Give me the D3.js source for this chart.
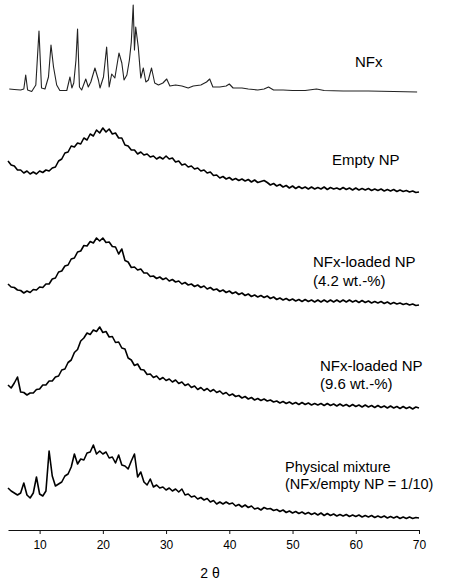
<!DOCTYPE html>
<html>
<head>
<meta charset="utf-8">
<script src="https://cdn.jsdelivr.net/npm/d3@7"></script>
<style>
  body { margin: 0; background: #fff; }
  svg { display: block; }
  text { font-family: "Liberation Sans", Arial, sans-serif; fill: #000; }
</style>
</head>
<body>
<svg id="chart" width="449" height="582"></svg>
<script>
// scan positions (2 theta, degrees), one reading every 0.5 deg
let scanAngles = d3.range(5, 70.001, 0.5);

// NFx powder: sharp crystalline reflections, read as [2theta, intensity]
let nfxPattern = [
  [5.2,3],[6,2.5],[7,2],[7.5,3],[7.8,17],[8.1,2],[8.75,0.5],[9.4,7],[9.9,61],[10.3,4],
  [10.85,3],[11.4,15],[11.8,47],[12.2,25],[12.7,7],[13.2,1.5],[14.3,1.5],[14.8,15],[15.1,4],[15.4,9],
  [15.75,32],[16.0,63],[16.3,5],[16.65,2],[17.3,13],[17.7,5],[18.1,10],[18.75,24],[19.3,12],[19.55,4],
  [20.1,15],[20.6,45],[21.0,5],[21.4,18],[21.9,14],[22.55,39],[23.0,29],[23.35,12],[23.8,17],[24.2,32],
  [24.5,50],[24.8,87],[25.0,42],[25.2,65],[25.6,45],[26.0,14],[26.4,24],[26.8,10],[27.2,12],[27.7,24],
  [28.2,9],[28.8,7],[29.5,9],[30.1,13],[30.6,6],[31.5,7],[32.5,6],[33.5,4],[34.3,6],[35.5,7],
  [36.4,10],[36.9,13],[37.4,5],[38.5,5],[39.5,6],[40,8],[40.6,4],[42,4],[43,3],[44.5,2],
  [45.5,3],[46.2,5],[47,2],[48.5,2],[50,1.5],[52,1.5],[53.8,3],[55,1.5],[58,1],[62,1],
  [66,0.5],[69.7,0]
];

// amorphous samples, one value per scan position
let emptyNP = [
  31, 27, 26, 22, 22, 19, 21, 18, 20, 18,
  21, 19.5, 22, 21, 24, 25, 31, 33, 39, 40,
  46, 45, 49, 48, 54, 52, 58, 56, 62, 59,
  64, 60, 63, 58, 59, 54, 54, 47, 46, 42,
  42, 38, 40, 37, 38, 35, 36, 33, 35, 33,
  36, 33, 34, 30, 31, 27, 28, 25, 26, 23,
  24, 21, 22, 19, 20, 16.5, 17, 14, 15.5, 13,
  14.5, 12, 13.5, 11.5, 13, 11, 12.5, 10, 12, 9.5,
  10.5, 11.5, 9.5, 7, 8.5, 6, 7.5, 5, 6.5, 4,
  6, 3.5, 5.5, 3.5, 5, 3, 5, 3, 4.5, 3,
  5, 2.5, 4.5, 3, 4, 2.5, 4.5, 2.5, 4, 2,
  4, 2, 3.5, 2, 3.5, 1.5, 3, 1.5, 3, 1,
  2.5, 1, 2.5, 0.5, 2, 0.5, 1.5, 0, 1, -0.5,
  0
];

let loaded42 = [
  21, 18, 17.5, 15, 14.5, 12, 14, 12.5, 15.5, 15,
  18, 17.5, 21, 21, 26, 27, 33, 34, 39, 40,
  46, 47, 53, 54, 59.5, 59, 63.5, 62, 67, 64,
  67, 62.5, 63, 58.5, 58, 51, 56, 44.5, 43, 37.5,
  38, 35, 36, 32, 32, 28.5, 29, 26.5, 28, 25.5,
  27, 24, 25.5, 23, 24, 21, 22.5, 20, 21, 18.5,
  20, 17.5, 19, 16, 17.5, 15, 16, 13.5, 15, 12.5,
  14, 11.5, 13, 10.5, 12, 9.5, 11, 8.5, 10, 8,
  9.5, 7.5, 9, 6.5, 8, 5.5, 7, 5, 6.5, 4.5,
  6, 4, 5.5, 3.5, 5.5, 3.5, 5, 3, 5, 3,
  5, 3, 5, 3, 5, 3, 5, 3, 5, 3,
  4.5, 2.5, 4.5, 2.5, 4, 2, 3.5, 2, 3.5, 1.5,
  3, 1, 2.5, 1, 2, 0.5, 1.5, 0, 1, -0.5,
  0
];

let loaded96 = [
  23, 20, 25, 31, 16, 15.5, 13, 15, 15, 18.5,
  19, 23, 23, 27, 27, 31, 32, 38, 39, 45.5,
  48, 55.5, 58.5, 67, 70, 75, 73.5, 78, 76.5, 81,
  75.5, 76.5, 71, 71.5, 65.5, 66, 60, 59, 50, 48,
  42.5, 44, 38.5, 38, 33.5, 34, 30.5, 32, 28.5, 30.5,
  27.5, 29, 26, 28, 24.5, 26, 22.5, 24, 20.5, 22,
  18.5, 20.5, 17.5, 19.5, 16.5, 18.5, 15.5, 17, 14, 15.5,
  12.5, 14, 11.5, 12.5, 10, 11.5, 9, 10.5, 8, 9.5,
  7.5, 9, 7, 8, 6, 7, 5, 6.5, 4.5, 6,
  4, 5.5, 3.5, 5.5, 3.5, 5, 3, 4.5, 3, 4.5,
  2.5, 4.5, 2.5, 4, 2, 4, 2, 3.5, 1.5, 3.5,
  1.5, 3, 1, 3, 1, 2.5, 0.5, 2.5, 0.5, 2,
  0, 2, 0, 1.5, -0.5, 1.5, -0.5, 1, -1, 1,
  0
];

let physMix = [
  30, 27, 25, 23, 25, 35, 23, 20, 25, 41,
  24, 22, 27, 67, 42, 32, 34, 36, 42, 44,
  51, 64, 54, 59, 58, 65, 66, 73, 64, 67,
  64, 66, 60, 61, 55, 63, 53, 52, 49, 57,
  64, 41, 46, 36, 33, 39, 31, 33, 30, 31,
  28, 30, 27, 29, 26, 29, 23, 24, 21, 22,
  19, 20.5, 18, 19.5, 16, 17.5, 14, 16, 14, 16,
  14, 15, 12, 13.5, 11, 13, 10.5, 12, 9, 10,
  8, 10.5, 9, 9.5, 7.5, 8.5, 6.5, 8, 5.5, 7,
  5, 6.5, 4.5, 6, 4, 5.5, 3.5, 5, 3, 5,
  2.5, 4.5, 2.5, 4, 2, 3.5, 2, 3.5, 1.5, 3,
  1.5, 3, 1, 2.5, 1, 2.5, 0.5, 2, 0.5, 2,
  0, 1.5, 0, 1.5, -0.5, 1, -0.5, 1, -0.5, 0.5,
  0
];

// vertical stacking of the patterns (intensity units)
let traceOffsets = [438, 338, 225, 122, 12];

let traceLabels = [
  ["NFx"],
  ["Empty NP"],
  ["NFx-loaded NP", "(4.2 wt.-%)"],
  ["NFx-loaded NP", "(9.6 wt.-%)"],
  ["Physical mixture", "(NFx/empty NP = 1/10)"]
];

let xTicks = [10, 20, 30, 40, 50, 60, 70];

// label placement: left x, first baseline, line gap, font size (px)
let labelPlaces = [
  [355, 67, 0, 15], [332, 165, 0, 15], [313, 267, 18.5, 15], [320, 371, 18, 15], [285, 472, 17, 14.5]
];

let svg = d3.select("#chart");

let x = d3.scaleLinear().domain([5, 70]).range([8, 419]);
let y = d3.scaleLinear().domain([0, 522]).range([530, 8]);

let series = [
  nfxPattern,
  scanAngles.map((a, i) => [a, emptyNP[i]]),
  scanAngles.map((a, i) => [a, loaded42[i]]),
  scanAngles.map((a, i) => [a, loaded96[i]]),
  scanAngles.map((a, i) => [a, physMix[i]])
];

series.forEach((pts, k) => {
  let line = d3.line()
    .x(d => x(d[0]))
    .y(d => y(d[1] + traceOffsets[k]));
  svg.append("path")
    .attr("d", line(pts))
    .attr("fill", "none")
    .attr("stroke", k === 0 ? "#222" : "#000")
    .attr("stroke-width", k === 0 ? 1.1 : 1.6)
    .attr("stroke-linejoin", "round");
});

traceLabels.forEach((lines, k) => {
  let p = labelPlaces[k];
  let t = svg.append("text")
    .attr("font-size", p[3])
    .attr("x", p[0])
    .attr("y", p[1]);
  lines.forEach((s, j) => {
    t.append("tspan").attr("x", p[0]).attr("y", p[1] + j * p[2]).text(s);
  });
});

let axis = svg.append("g")
  .attr("transform", "translate(0,530)")
  .call(d3.axisBottom(x).tickValues(xTicks).tickSize(4).tickSizeOuter(0).tickPadding(6));
axis.select(".domain").attr("stroke", "#111").attr("stroke-width", 1.2);
axis.selectAll(".tick line").attr("stroke", "#111");
axis.selectAll(".tick text")
  .attr("font-size", 12)
  .attr("font-family", "'Liberation Sans', Arial, sans-serif")
  .attr("fill", "#111");

svg.append("text")
  .attr("x", 210)
  .attr("y", 578)
  .attr("text-anchor", "middle")
  .attr("font-size", 14)
  .text("2 θ");
</script>
</body>
</html>
